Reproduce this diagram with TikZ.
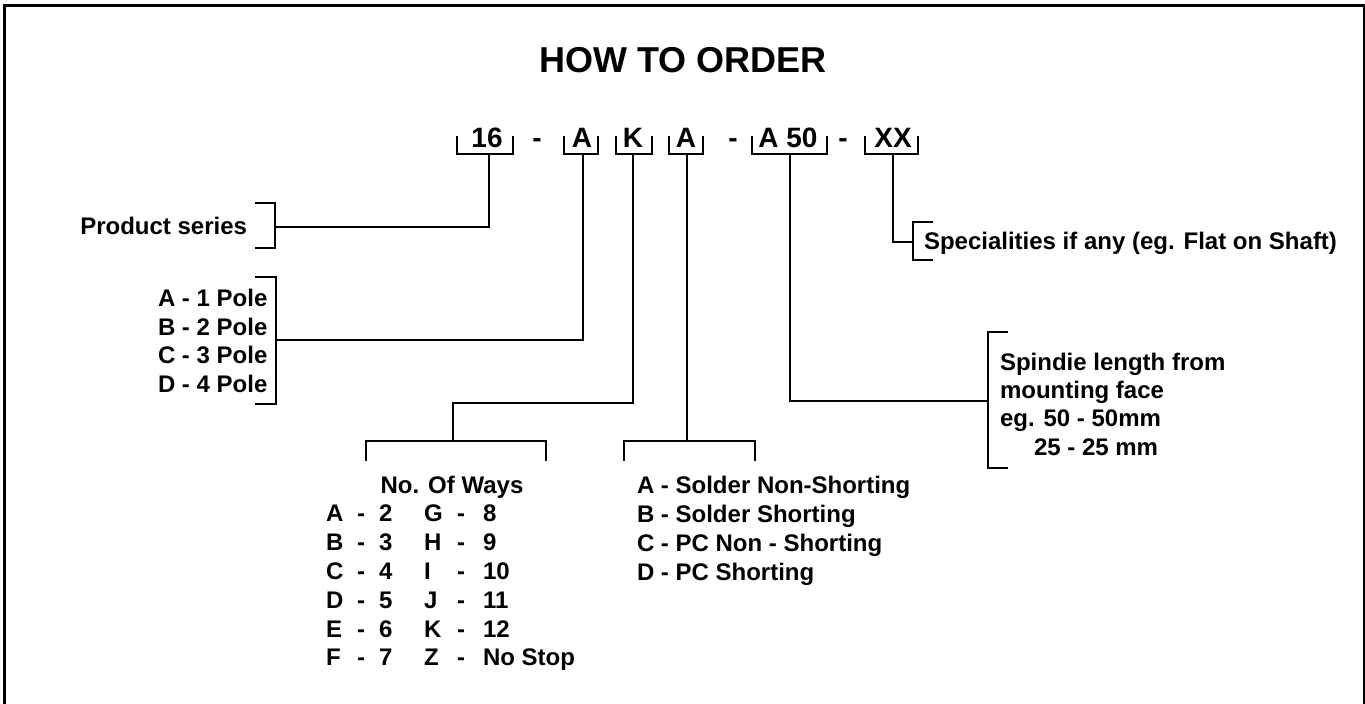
\documentclass[tikz,border=0pt]{standalone}
\usepackage{fontspec}
\setmainfont{Liberation Sans}
\begin{document}
\begin{tikzpicture}[x=0.5pt,y=-0.5pt,line width=1pt,
  txt/.style={font=\bfseries\fontsize{12}{14}\selectfont,inner sep=0pt},
  code/.style={font=\bfseries\fontsize{14}{16}\selectfont,inner sep=0pt,anchor=base},
  ttl/.style={font=\bfseries\fontsize{18}{22}\selectfont,inner sep=0pt},
  br/.style={line width=1pt,line join=miter}]
\useasboundingbox (0,0) rectangle (1365,704);
% frame
\draw[line width=1.5pt] (4,706) -- (4,6) -- (1364,6) -- (1364,706);
% title
\node[ttl,anchor=base] (title) at (683,73) {HOW TO ORDER};
% code line
\node[code] (c16) at (487,148) {16};
\node[code] (d1) at (537,148) {-};
\node[code] (cA1) at (582,148) {A};
\node[code] (cK) at (633,148) {K};
\node[code] (cA2) at (686,148) {A};
\node[code] (d2) at (733,148) {-};
\node[code] (cA50) at (788,148) {A 50};
\node[code] (d3) at (843,148) {-};
\node[code] (cXX) at (893,148) {XX};
\draw[br] (457,136) -- (457,154) -- (513,154) -- (513,136);
\draw[br] (564,136) -- (564,154) -- (598,154) -- (598,136);
\draw[br] (616,136) -- (616,154) -- (652,154) -- (652,136);
\draw[br] (669,136) -- (669,154) -- (703,154) -- (703,136);
\draw[br] (752,136) -- (752,154) -- (827,154) -- (827,136);
\draw[br] (865,136) -- (865,154) -- (918,154) -- (918,136);
\coordinate (s16) at (489,154);
\coordinate (sA1) at (583,154);
\coordinate (sK) at (633,154);
\coordinate (sA2) at (687,154);
\coordinate (sA50) at (790,154);
\coordinate (sXX) at (893,154);
% product series
\node[txt,anchor=base east] (ps) at (248,235) {Product series};
\draw[br] (255,203) -- (275,203) -- (275,248) -- (255,248);
\coordinate (psj) at (275,227);
\draw (s16) |- (psj);
% poles
\foreach \t [count=\i from 0] in {A - 1 Pole,B - 2 Pole,C - 3 Pole,D - 4 Pole}
  \node[txt,anchor=base west] (pole\i) at (157,307+28.5*\i) {\t};
\draw[br] (255,277) -- (276,277) -- (276,404) -- (255,404);
\coordinate (polej) at (276,340);
\draw (sA1) |- (polej);
% ways
\coordinate (wj) at (453,403);
\coordinate (wb) at (453,441);
\draw (sK) |- (wj) -- (wb);
\draw[br] (366,461) -- (366,441) -- (546,441) -- (546,461);
\node[txt,anchor=base] (ways) at (452,494) {No. Of Ways};
\foreach \a/\n/\b/\m [count=\i from 0] in {A/2/G/8,B/3/H/9,C/4/I/10,D/5/J/11,E/6/K/12,F/7/Z/No Stop}{
  \node[txt,anchor=base west] (wa\i) at (325,522+28.8*\i) {\a};
  \node[txt,anchor=base west] (wd\i) at (356,522+28.8*\i) {-};
  \node[txt,anchor=base west] (wn\i) at (378,522+28.8*\i) {\n};
  \node[txt,anchor=base west] (wb\i) at (423,522+28.8*\i) {\b};
  \node[txt,anchor=base west] (we\i) at (456,522+28.8*\i) {-};
  \node[txt,anchor=base west] (wm\i) at (482,522+28.8*\i) {\m};
}
% termination
\coordinate (tb) at (687,441);
\draw (sA2) -- (tb);
\draw[br] (624,461) -- (624,441) -- (755,441) -- (755,461);
\foreach \t [count=\i from 0] in {A - Solder Non-Shorting,B - Solder Shorting,C - PC Non - Shorting,D - PC Shorting}
  \node[txt,anchor=base west] (term\i) at (636,494+28.8*\i) {\t};
% spindle
\coordinate (spj) at (988,401);
\draw (sA50) |- (spj);
\draw[br] (1008,332) -- (988,332) -- (988,468) -- (1008,468);
\node[txt,anchor=base west] (sp0) at (999,371) {Spindie length from};
\node[txt,anchor=base west] (sp1) at (999,399) {mounting face};
\node[txt,anchor=base west] (sp2) at (999,427) {eg. 50 - 50mm};
\node[txt,anchor=base west] (sp3) at (1033,456) {25 - 25 mm};
% specialities
\coordinate (spcj) at (913,242);
\draw (sXX) |- (spcj);
\draw[br] (933,222) -- (913,222) -- (913,260) -- (933,260);
\node[txt,anchor=base west] (spc) at (923,250) {Specialities if any (eg. Flat on Shaft)};
\end{tikzpicture}
\end{document}
